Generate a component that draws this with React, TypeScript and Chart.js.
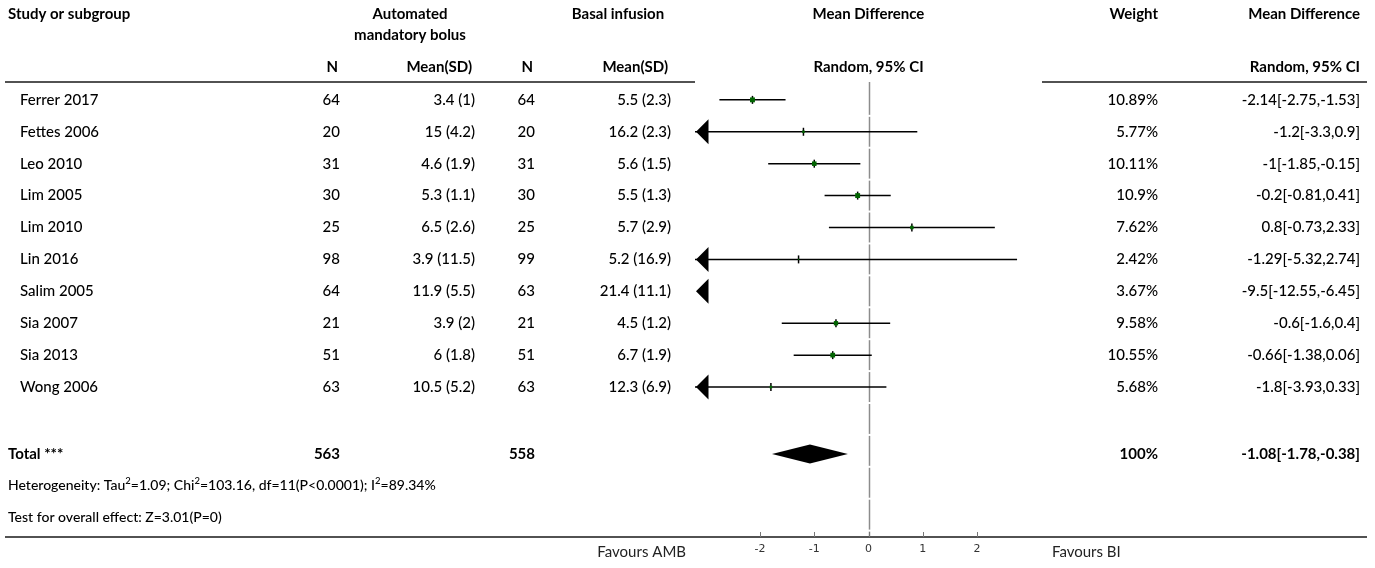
import { useEffect, useRef } from "react";
import { Chart, registerables } from "chart.js";

Chart.register(...registerables);

// Study rows
const studies = [
  "Ferrer 2017",
  "Fettes 2006",
  "Leo 2010",
  "Lim 2005",
  "Lim 2010",
  "Lin 2016",
  "Salim 2005",
  "Sia 2007",
  "Sia 2013",
  "Wong 2006",
];
const amN = [64, 20, 31, 30, 25, 98, 64, 21, 51, 63];
const amMeanSd = ["3.4 (1)", "15 (4.2)", "4.6 (1.9)", "5.3 (1.1)", "6.5 (2.6)", "3.9 (11.5)", "11.9 (5.5)", "3.9 (2)", "6 (1.8)", "10.5 (5.2)"];
const biN = [64, 20, 31, 30, 25, 99, 63, 21, 51, 63];
const biMeanSd = ["5.5 (2.3)", "16.2 (2.3)", "5.6 (1.5)", "5.5 (1.3)", "5.7 (2.9)", "5.2 (16.9)", "21.4 (11.1)", "4.5 (1.2)", "6.7 (1.9)", "12.3 (6.9)"];
const weights = [10.89, 5.77, 10.11, 10.9, 7.62, 2.42, 3.67, 9.58, 10.55, 5.68];
const meanDiff = [-2.14, -1.2, -1, -0.2, 0.8, -1.29, -9.5, -0.6, -0.66, -1.8];
const ciLow = [-2.75, -3.3, -1.85, -0.81, -0.73, -5.32, -12.55, -1.6, -1.38, -3.93];
const ciHigh = [-1.53, 0.9, -0.15, 0.41, 2.33, 2.74, -6.45, 0.4, 0.06, 0.33];

// Pooled result
const totalN = [563, 558];
const totalWeight = 100;
const totalMd = [-1.08, -1.78, -0.38]; // estimate, lower, upper
const tau2 = 1.09;
const chi2 = 103.16;
const hetDf = 11;
const hetP = "P<0.0001";
const i2 = 89.34;
const overallText = "Test for overall effect: Z=3.01(P=0)";

// Axis
const xTicks = [-2, -1, 0, 1, 2];
const xMin = -3.2;
const xMax = 3.2;

const TEXT_FONT = "Lato, 'Noto Sans', sans-serif";
const AXIS_FONT = "'DejaVu Sans', sans-serif";
const FONT_SIZE = 15;
const REGULAR_WEIGHT = 500;
const BOX_GREEN = "#006400";

// vertical slots of the summary lines below the studies
const TOTAL_ROW = 11.1;
const HET_ROW = 12.1;
const TEST_ROW = 13.1;

const forestPlugin = {
  id: "forestTable",
  beforeDatasetsDraw(chart: any) {
    const { ctx, chartArea } = chart;
    const xs = chart.scales.x;
    const ys = chart.scales.y;
    ctx.save();

    // reference line at zero, broken at row boundaries
    const x0 = Math.round(xs.getPixelForValue(0)) + 0.5;
    ctx.strokeStyle = "#8c8c8c";
    ctx.lineWidth = 1.5;
    const bounds: number[] = [chartArea.top];
    for (let i = 0; i <= 13; i++) bounds.push(ys.getPixelForValue(i + 0.5));
    bounds.push(chartArea.bottom);
    for (let k = 0; k < bounds.length - 1; k++) {
      const a = bounds[k] + (k === 0 ? 0 : 1);
      const b = Math.min(bounds[k + 1] - 1, chartArea.bottom);
      if (b <= a) continue;
      ctx.beginPath();
      ctx.moveTo(x0, a);
      ctx.lineTo(x0, b);
      ctx.stroke();
    }

    // confidence intervals, with arrows where they run off the axis
    ctx.strokeStyle = "#000";
    ctx.fillStyle = "#000";
    ctx.lineWidth = 1.5;
    studies.forEach((_, i) => {
      const y = ys.getPixelForValue(i);
      const lo = Math.max(ciLow[i], xMin);
      const hi = Math.min(ciHigh[i], xMax);
      if (hi > lo) {
        ctx.beginPath();
        ctx.moveTo(xs.getPixelForValue(lo), y);
        ctx.lineTo(xs.getPixelForValue(hi), y);
        ctx.stroke();
      }
      if (ciLow[i] < xMin) {
        const tip = chartArea.left + 1;
        ctx.beginPath();
        ctx.moveTo(tip, y);
        ctx.lineTo(tip + 12.5, y - 12.5);
        ctx.lineTo(tip + 12.5, y + 12.5);
        ctx.closePath();
        ctx.fill();
      }
      if (ciHigh[i] > xMax) {
        const tip = chartArea.right - 1;
        ctx.beginPath();
        ctx.moveTo(tip, y);
        ctx.lineTo(tip - 12.5, y - 12.5);
        ctx.lineTo(tip - 12.5, y + 12.5);
        ctx.closePath();
        ctx.fill();
      }
    });

    // pooled diamond
    const yd = ys.getPixelForValue(TOTAL_ROW);
    ctx.beginPath();
    ctx.moveTo(xs.getPixelForValue(totalMd[1]), yd);
    ctx.lineTo(xs.getPixelForValue(totalMd[0]), yd - 9.5);
    ctx.lineTo(xs.getPixelForValue(totalMd[2]), yd);
    ctx.lineTo(xs.getPixelForValue(totalMd[0]), yd + 9.5);
    ctx.closePath();
    ctx.fill();
    ctx.restore();
  },
  afterDraw(chart: any) {
    const { ctx, chartArea, width } = chart;
    const xs = chart.scales.x;
    const ys = chart.scales.y;
    ctx.save();

    // table rules
    ctx.strokeStyle = "#1a1a1a";
    ctx.lineWidth = 1.5;
    ctx.beginPath();
    ctx.moveTo(5, chartArea.top);
    ctx.lineTo(chartArea.left, chartArea.top);
    ctx.moveTo(chartArea.right, chartArea.top);
    ctx.lineTo(width - 8, chartArea.top);
    ctx.moveTo(5, chartArea.bottom);
    ctx.lineTo(width - 8, chartArea.bottom);
    ctx.stroke();

    // inward tick marks
    ctx.strokeStyle = "#777";
    ctx.lineWidth = 1;
    xTicks.forEach((v) => {
      const px = Math.round(xs.getPixelForValue(v)) + 0.5;
      ctx.beginPath();
      ctx.moveTo(px, chartArea.bottom - 5);
      ctx.lineTo(px, chartArea.bottom);
      ctx.stroke();
    });

    const setFont = (bold: boolean, size = FONT_SIZE) => {
      ctx.font = `${bold ? "bold" : REGULAR_WEIGHT} ${size}px ${TEXT_FONT}`;
    };
    const text = (s: string, x: number, y: number, align: CanvasTextAlign, bold = false, size = FONT_SIZE) => {
      setFont(bold, size);
      ctx.textAlign = align;
      ctx.textBaseline = "middle";
      ctx.fillStyle = "#000";
      ctx.fillText(s, x, y);
    };
    // left-aligned run of text pieces; odd pieces are superscripts
    const richText = (parts: string[], x: number, y: number, size: number) => {
      ctx.textAlign = "left";
      ctx.textBaseline = "middle";
      ctx.fillStyle = "#000";
      let cx = x;
      parts.forEach((p, k) => {
        const sup = k % 2 === 1;
        setFont(false, sup ? 9.5 : size);
        ctx.fillText(p, cx, sup ? y - 5 : y);
        cx += ctx.measureText(p).width;
      });
    };

    const colN1 = 340;
    const colM1 = 475;
    const colN2 = 535;
    const colM2 = 671;
    const colW = 1158;
    const colMD = 1360;
    const plotMid = (chartArea.left + chartArea.right) / 2;

    // header
    text("Study or subgroup", 8, 14, "left", true);
    text("Automated", 410, 14, "center", true);
    text("mandatory bolus", 410, 35, "center", true);
    text("Basal infusion", 618, 14, "center", true);
    text("Mean Difference", plotMid, 14, "center", true);
    text("Weight", colW, 14, "right", true);
    text("Mean Difference", colMD, 14, "right", true);
    text("N", colN1 - 2, 67, "right", true);
    text("Mean(SD)", colM1 - 3, 67, "right", true);
    text("N", colN2 - 2, 67, "right", true);
    text("Mean(SD)", colM2 - 3, 67, "right", true);
    text("Random, 95% CI", plotMid, 67, "center", true);
    text("Random, 95% CI", colMD, 67, "right", true);

    // study rows
    studies.forEach((name, i) => {
      const y = ys.getPixelForValue(i);
      text(name, 20, y, "left");
      text(String(amN[i]), colN1, y, "right");
      text(amMeanSd[i], colM1, y, "right");
      text(String(biN[i]), colN2, y, "right");
      text(biMeanSd[i], colM2, y, "right");
      text(`${weights[i]}%`, colW, y, "right");
      text(`${meanDiff[i]}[${ciLow[i]},${ciHigh[i]}]`, colMD, y, "right");
    });

    // totals
    const yt = ys.getPixelForValue(TOTAL_ROW);
    text("Total ***", 8, yt, "left", true);
    text(String(totalN[0]), colN1, yt, "right", true);
    text(String(totalN[1]), colN2, yt, "right", true);
    text(`${totalWeight}%`, colW, yt, "right", true);
    text(`${totalMd[0]}[${totalMd[1]},${totalMd[2]}]`, colMD, yt, "right", true);
    richText(
      ["Heterogeneity: Tau", "2", `=${tau2}; Chi`, "2", `=${chi2}, df=${hetDf}(${hetP}); I`, "2", `=${i2}%`],
      8,
      ys.getPixelForValue(HET_ROW),
      14
    );
    text(overallText, 8, ys.getPixelForValue(TEST_ROW), "left", false, 14);

    // favours labels
    ctx.font = `15px ${TEXT_FONT}`;
    ctx.fillStyle = "#222";
    ctx.textBaseline = "middle";
    ctx.textAlign = "right";
    ctx.fillText("Favours AMB", 686, chartArea.bottom + 15);
    ctx.textAlign = "left";
    ctx.fillText("Favours BI", 1052, chartArea.bottom + 15);
    ctx.restore();
  },
};

export default function App() {
  const canvasRef = useRef<HTMLCanvasElement | null>(null);

  useEffect(() => {
    const canvas = canvasRef.current;
    if (!canvas) return;
    const points = meanDiff.map((v, i) => ({ x: v, y: i }));
    const chart = new Chart(canvas, {
      type: "scatter",
      data: {
        datasets: [
          {
            label: "Weighted estimate",
            data: points,
            pointStyle: "rect",
            pointRadius: weights.map((w) => (w * 0.45) / Math.SQRT2),
            backgroundColor: BOX_GREEN,
            borderColor: BOX_GREEN,
            borderWidth: 0,
          },
          {
            label: "Estimate",
            data: points,
            pointStyle: "line",
            pointRotation: 90,
            pointRadius: 4,
            borderColor: "#000",
            borderWidth: 1.5,
          },
        ],
      },
      options: {
        animation: false,
        responsive: false,
        devicePixelRatio: 1,
        layout: { padding: { left: 695, right: 333, top: 82, bottom: 5.8 } },
        scales: {
          x: {
            type: "linear",
            min: xMin,
            max: xMax,
            afterBuildTicks: (scale: any) => {
              scale.ticks = xTicks.map((v) => ({ value: v }));
            },
            grid: { display: false, drawTicks: false },
            border: { display: false },
            ticks: {
              font: { family: AXIS_FONT, size: 11 },
              color: "#333",
              padding: 6,
              maxRotation: 0,
            },
          },
          y: {
            type: "linear",
            min: -0.56,
            max: 13.7,
            reverse: true,
            display: false,
          },
        },
        plugins: {
          legend: { display: false },
          tooltip: { enabled: false },
        },
      },
      plugins: [forestPlugin],
    });
    return () => chart.destroy();
  }, []);

  return (
    <div style={{ position: "absolute", left: 0, top: 0, width: 1375, height: 568, background: "#fff" }}>
      <canvas ref={canvasRef} width={1375} height={568} style={{ display: "block" }} />
    </div>
  );
}
